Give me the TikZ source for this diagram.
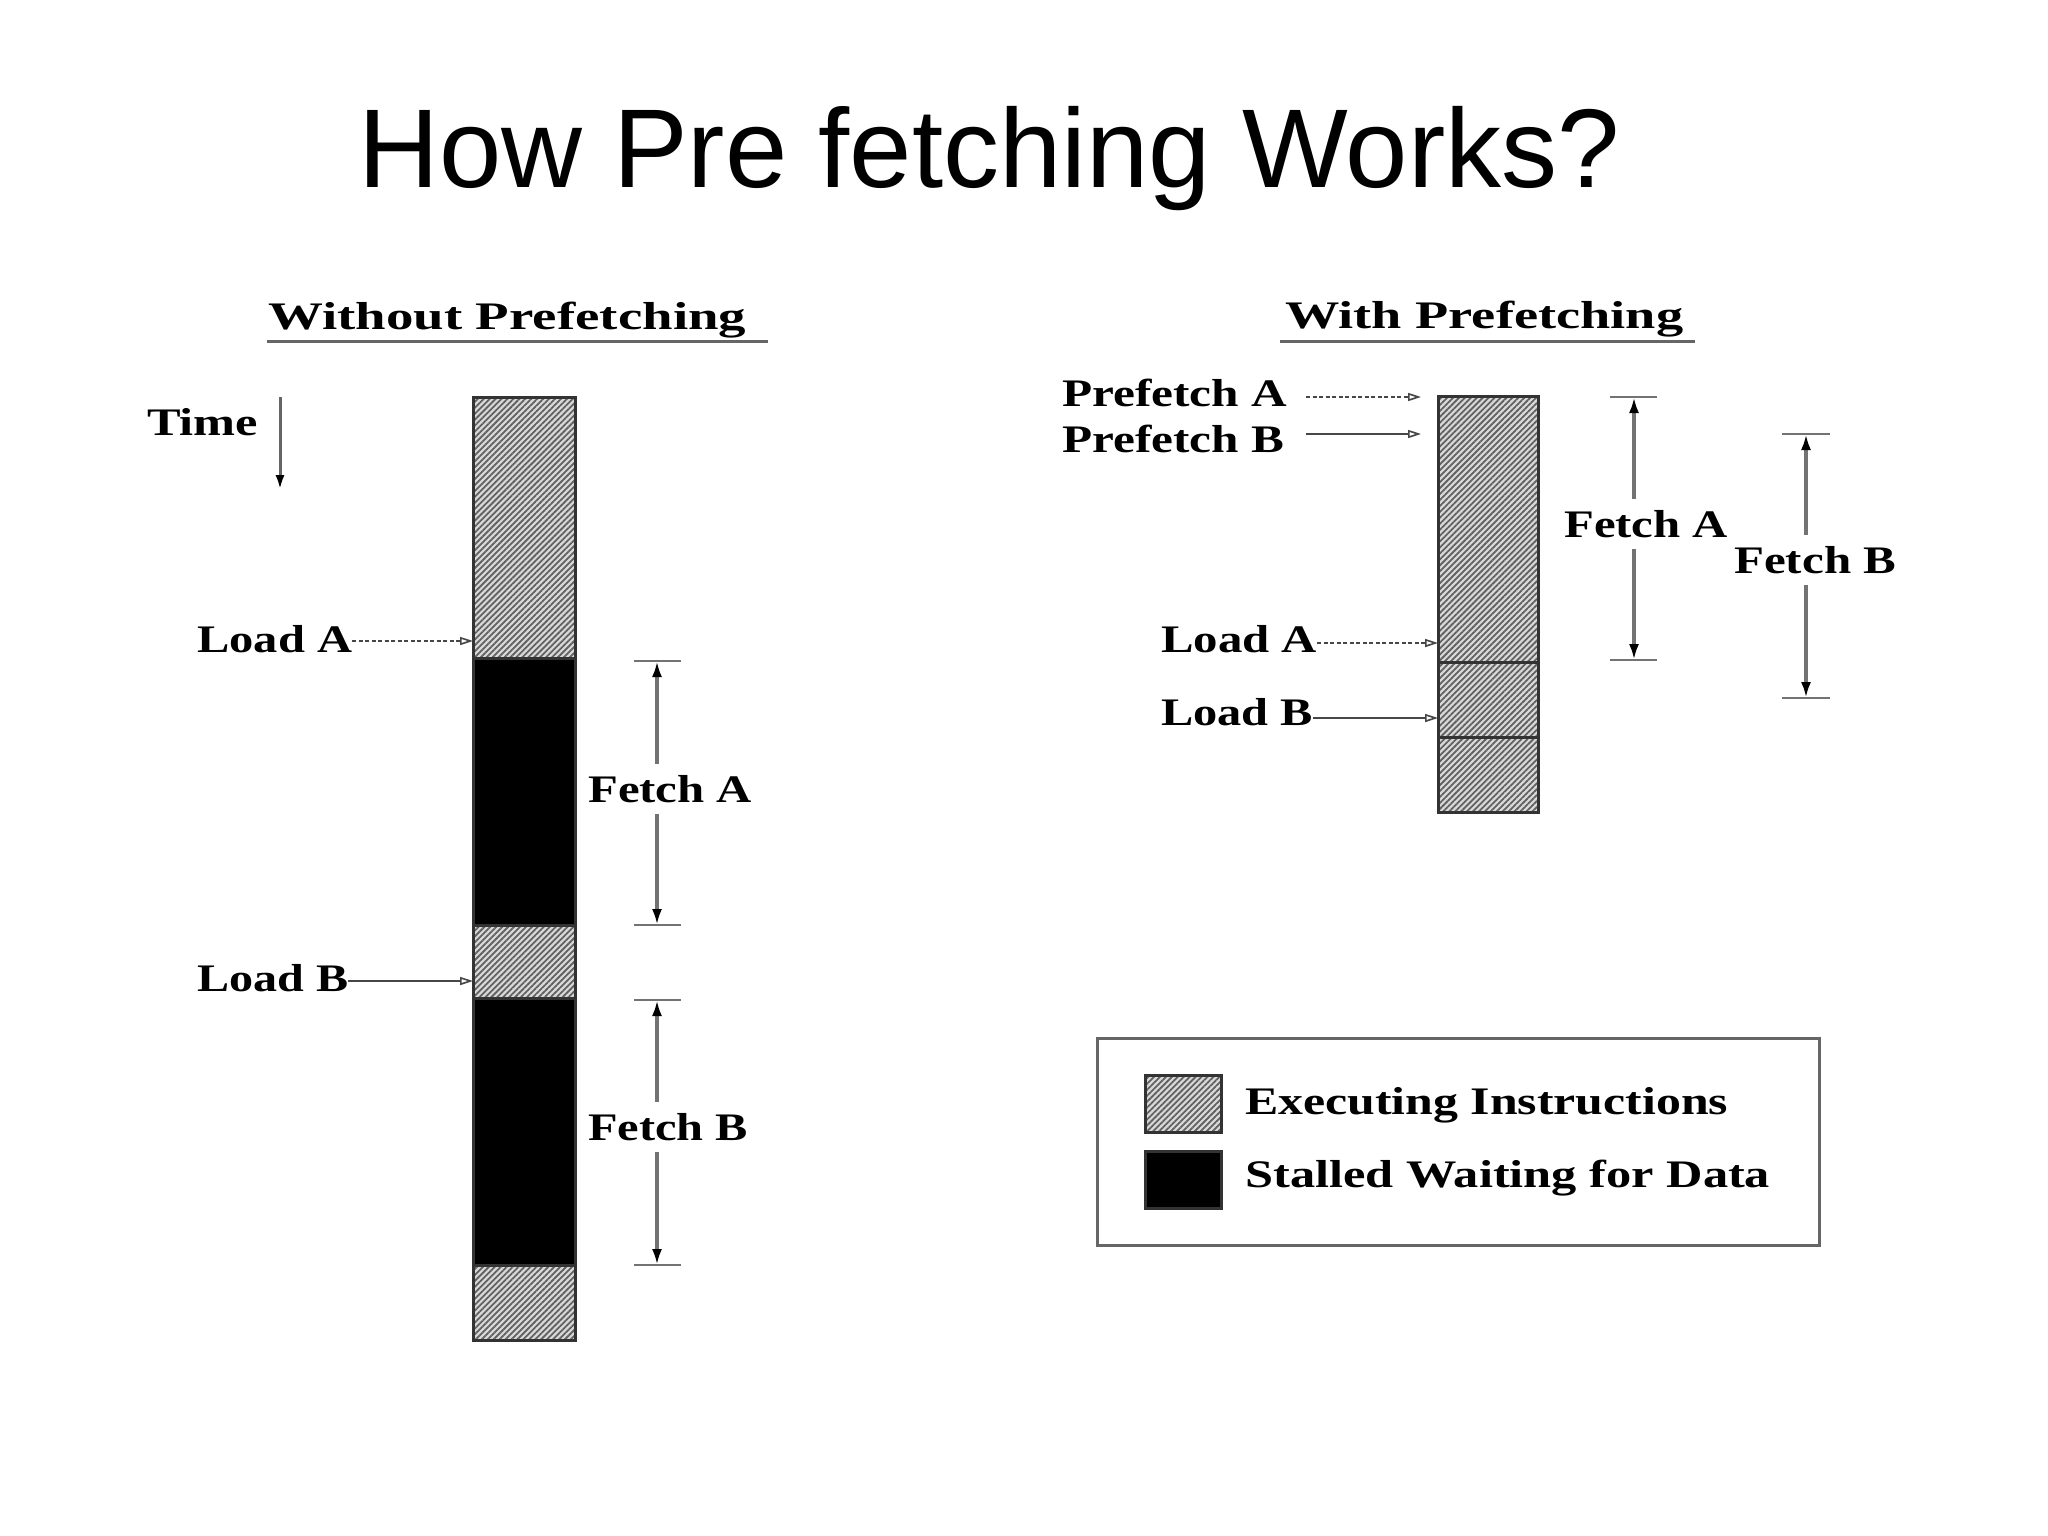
\documentclass[tikz,border=0pt]{standalone}
\usepackage{fontspec}
\setmainfont{Liberation Serif}
\newfontfamily\titlefont{Liberation Sans}
\usepackage{graphicx}
\usetikzlibrary{arrows.meta,patterns.meta}
\newsavebox\fitbox
\newcommand\fitw[2]{\sbox\fitbox{#2}\pgfmathsetmacro\fitfac{#1/\the\wd\fitbox}\scalebox{\fitfac}[1]{\usebox\fitbox}}
\tikzset{
  lab/.style={inner sep=0pt, anchor=base west, font=\fontsize{39}{44}\selectfont\bfseries},
  leg/.style={inner sep=0pt, anchor=base west, font=\fontsize{39}{44}\selectfont\bfseries},
  dimlab/.style={lab, inner ysep=11pt},
  hatchbox/.style={draw=black!80, line width=3pt, inner sep=0pt, outer sep=0pt, anchor=north west,
     preaction={fill=gray!30},
     pattern={Lines[angle=45,distance=4.2pt,line width=1.8pt]}, pattern color=black!62},
  blackbox/.style={draw=black!80, fill=black, line width=3pt, inner sep=0pt, outer sep=0pt, anchor=north west},
  ptr/.style={draw=black!72, line width=2pt, -{Triangle[open, length=13pt, width=8pt, line width=1.6pt]}},
  ptrdash/.style={ptr, dash pattern=on 4pt off 2.5pt},
  dimline/.style={draw=black!55, line width=3.5pt, -{Latex[length=16pt,width=10pt,color=black]}},
  tickline/.style={draw=black!55, line width=2.8pt},
  uline/.style={draw=black!60, line width=3pt},
}
\begin{document}
\begin{tikzpicture}[x=1pt,y=-1pt]
\useasboundingbox (0,0) rectangle (2048,1536);
\fill[white] (0,0) rectangle (2048,1536);

% title
\node[anchor=base, inner sep=0pt, font=\titlefont\fontsize{112}{130}\selectfont] (title) at (989,187) {How Pre fetching Works?};

% ---------- left: without prefetching ----------
\node[lab] (h1) at (268,329) {\fitw{478}{Without Prefetching}};
\coordinate (u1a) at (267,341); \coordinate (u1b) at (768,341);
\draw[uline] (u1a) -- (u1b);

\node[lab] (tm) at (147,435) {\fitw{111}{Time}};
\coordinate (tA) at (280,397); \coordinate (tB) at (280,490);
\draw[draw=black!60, line width=3pt, -{Latex[length=15pt,width=9pt,color=black]}] (tA) -- (tB);

\node[hatchbox, minimum width=102pt, minimum height=261pt] (s1) at (473,397) {};
\node[blackbox, minimum width=102pt, minimum height=267pt] (s2) at (473,658) {};
\node[hatchbox, minimum width=102pt, minimum height=73pt] (s3) at (473,925) {};
\node[blackbox, minimum width=102pt, minimum height=267pt] (s4) at (473,998) {};
\node[hatchbox, minimum width=102pt, minimum height=75pt] (s5) at (473,1265) {};

\node[lab] (la) at (197,652) {\fitw{155}{Load A}};
\node[lab] (lb) at (197,991) {\fitw{151}{Load B}};
\coordinate (laT) at (473,641);
\coordinate (lbT) at (473,981);
\draw[ptrdash] (la.east |- laT) -- (laT);
\draw[ptr] (lb.east |- lbT) -- (lbT);

% Fetch A (left)
\node[dimlab] (fa) at (588,802) {\fitw{164}{Fetch A}};
\coordinate (faT) at (657,661); \coordinate (faB) at (657,925);
\draw[dimline] (fa.north -| faT) -- (faT);
\draw[dimline] (fa.south -| faB) -- (faB);
\draw[tickline] ([xshift=-23pt]faT) -- ([xshift=24pt]faT);
\draw[tickline] ([xshift=-23pt]faB) -- ([xshift=24pt]faB);

% Fetch B (left)
\node[dimlab] (fb) at (588,1140) {\fitw{160}{Fetch B}};
\coordinate (fbT) at (657,1000); \coordinate (fbB) at (657,1265);
\draw[dimline] (fb.north -| fbT) -- (fbT);
\draw[dimline] (fb.south -| fbB) -- (fbB);
\draw[tickline] ([xshift=-23pt]fbT) -- ([xshift=24pt]fbT);
\draw[tickline] ([xshift=-23pt]fbB) -- ([xshift=24pt]fbB);

% ---------- right: with prefetching ----------
\node[lab] (h2) at (1285,328) {\fitw{398}{With Prefetching}};
\coordinate (u2a) at (1280,341); \coordinate (u2b) at (1695,341);
\draw[uline] (u2a) -- (u2b);

\node[hatchbox, minimum width=100pt, minimum height=266pt] (r1) at (1438,396) {};
\node[hatchbox, minimum width=100pt, minimum height=75pt] (r2) at (1438,662) {};
\node[hatchbox, minimum width=100pt, minimum height=75pt] (r3) at (1438,737) {};

\node[lab] (pa) at (1062,406) {\fitw{225}{Prefetch A}};
\node[lab] (pb) at (1062,452) {\fitw{222}{Prefetch B}};
\node[lab] (ra) at (1161,652) {\fitw{156}{Load A}};
\node[lab] (rb) at (1161,725) {\fitw{152}{Load B}};
\coordinate (paT) at (1421,397);
\coordinate (pbT) at (1421,434);
\coordinate (raT) at (1438,643);
\coordinate (rbT) at (1438,718);
\draw[ptrdash] ([xshift=19pt]pa.east |- paT) -- (paT);
\draw[ptr] ([xshift=22pt]pb.east |- pbT) -- (pbT);
\draw[ptrdash] (ra.east |- raT) -- (raT);
\draw[ptr] (rb.east |- rbT) -- (rbT);

% Fetch A (right)
\node[dimlab] (rfa) at (1564,537) {\fitw{164}{Fetch A}};
\coordinate (rfaT) at (1634,397); \coordinate (rfaB) at (1634,660);
\draw[dimline] (rfa.north -| rfaT) -- (rfaT);
\draw[dimline] (rfa.south -| rfaB) -- (rfaB);
\draw[tickline] ([xshift=-24pt]rfaT) -- ([xshift=23pt]rfaT);
\draw[tickline] ([xshift=-24pt]rfaB) -- ([xshift=23pt]rfaB);

% Fetch B (right)
\node[dimlab] (rfb) at (1734,573) {\fitw{162}{Fetch B}};
\coordinate (rfbT) at (1806,434); \coordinate (rfbB) at (1806,698);
\draw[dimline] (rfb.north -| rfbT) -- (rfbT);
\draw[dimline] (rfb.south -| rfbB) -- (rfbB);
\draw[tickline] ([xshift=-24pt]rfbT) -- ([xshift=24pt]rfbT);
\draw[tickline] ([xshift=-24pt]rfbB) -- ([xshift=24pt]rfbB);

% ---------- legend ----------
\node[draw=black!60, line width=3pt, inner sep=0pt, outer sep=0pt, anchor=north west,
      minimum width=722pt, minimum height=207pt] (lgbox) at (1097,1038) {};
\node[hatchbox, minimum width=76pt, minimum height=57pt] (sw1) at (1145,1075) {};
\node[blackbox, minimum width=76pt, minimum height=57pt] (sw2) at (1145,1151) {};
\node[leg] (le) at (1245,1114) {\fitw{483}{Executing Instructions}};
\node[leg] (ls) at (1245,1187) {\fitw{525}{Stalled Waiting for Data}};
\end{tikzpicture}
\end{document}
